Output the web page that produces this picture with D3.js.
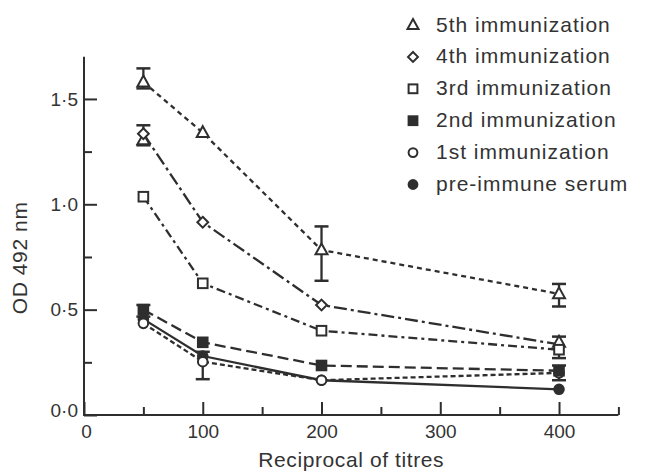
<!DOCTYPE html>
<html><head><meta charset="utf-8">
<script src="https://cdn.jsdelivr.net/npm/d3@7"></script>
<style>
body{margin:0;background:#fff;}
svg text{font-family:"Liberation Sans",Arial,sans-serif;fill:#333;}
</style></head>
<body><svg id="c" width="650" height="476"></svg>
<script>
// ---- data ----
const titres = [50, 100, 200, 400];
const seriesNames = ["5th immunization","4th immunization","3rd immunization","2nd immunization","1st immunization","pre-immune serum"];
const seriesSymbols = ["triangle","diamond","square","squareFilled","circle","circleFilled"];
const seriesDash = ["5,4","13,4,3,4","9,4,3,4","11,5","5,3",null];
const od5th = [1.58, 1.34, 0.783, 0.575];
const od4th = [1.335, 0.915, 0.522, 0.335];
const od3rd = [1.036, 0.625, 0.40, 0.31];
const od2nd = [0.50, 0.345, 0.235, 0.21];
const od1st = [0.435, 0.253, 0.165, 0.20];
const odPre = [0.455, 0.28, 0.165, 0.122];
// error bars: [titre, low, high]
const err5th = [[50,1.55,1.645],[200,0.637,0.895],[400,0.515,0.622]];
const err4th = [[50,1.28,1.375]];
const err3rd = [[400,0.27,0.372]];
const err2nd = [[50,0.467,0.522],[400,0.165,0.235]];
const err1st = [[100,0.17,0.30]];
const extraTriangles = [[50,1.305],[400,0.345]];
const xTicks = [0,100,200,300,400];
const yTicks = [0,0.5,1.0,1.5];
const yTickLabels = ["0·0","0·5","1·0","1·5"];

const seriesValues = [od5th, od4th, od3rd, od2nd, od1st, odPre];
const seriesErr = [err5th, err4th, err3rd, err2nd, err1st, []];

// ---- layout ----
const svg = d3.select("#c");
const x = d3.scaleLinear().domain([0,450]).range([84,618.4]);
const y = d3.scaleLinear().domain([0,1.7]).range([415,56.8]);
const ink = "#2e2e2e";

// axes
const gx = svg.append("g").attr("transform",`translate(0,${y(0)})`);
gx.call(d3.axisBottom(x).tickValues(d3.range(50,451,100)).tickSize(-8).tickFormat(""));
const gx2 = svg.append("g").attr("transform",`translate(0,${y(0)})`);
gx2.call(d3.axisBottom(x).tickValues(xTicks).tickSize(-13).tickPadding(10).tickFormat(d3.format("d")));
const gy = svg.append("g").attr("transform",`translate(${x(0)},0)`);
gy.call(d3.axisLeft(y).tickValues([0.25,0.75,1.25]).tickSize(-8).tickFormat(""));
const gy2 = svg.append("g").attr("transform",`translate(${x(0)},0)`);
gy2.call(d3.axisLeft(y).tickValues(yTicks).tickSize(-13).tickPadding(6).tickFormat((d,i)=>yTickLabels[i]));
svg.selectAll(".domain").remove();
svg.selectAll(".tick line").attr("stroke",ink).attr("stroke-width",2);
svg.selectAll(".tick text").attr("font-size",19).attr("fill","#333")
   .style("font-family",'"Liberation Sans",Arial,sans-serif');
gx2.select(".tick text").attr("dx",2);
gy2.select(".tick text").attr("dy","0.1em");
// axis lines
svg.append("line").attr("x1",x(0)).attr("x2",x(450)).attr("y1",y(0)).attr("y2",y(0)).attr("stroke",ink).attr("stroke-width",2);
svg.append("line").attr("x1",x(0)).attr("x2",x(0)).attr("y1",y(0)+1).attr("y2",y(1.7)).attr("stroke",ink).attr("stroke-width",2);

// axis titles
svg.append("text").attr("x",(x(0)+x(450))/2).attr("y",467).attr("text-anchor","middle")
  .attr("font-size",21).attr("letter-spacing",0.6).text("Reciprocal of titres");
svg.append("text").attr("transform",`translate(27,${(y(0)+y(1.7))/2+22}) rotate(-90)`).attr("text-anchor","middle")
  .attr("font-size",21).attr("letter-spacing",0.6).text("OD 492 nm");

// symbol drawer
function drawSym(g, type, cx, cy, s){
  const sw = 2;
  if(type==="triangle"){
    const h = s*0.9;
    g.append("path").attr("d",`M${cx},${cy-h*0.6}L${cx+s/2},${cy+h*0.4}L${cx-s/2},${cy+h*0.4}Z`)
     .attr("fill","#fff").attr("stroke",ink).attr("stroke-width",sw).attr("stroke-linejoin","miter");
  } else if(type==="diamond"){
    const r = s*0.45;
    g.append("path").attr("d",`M${cx},${cy-r}L${cx+r},${cy}L${cx},${cy+r}L${cx-r},${cy}Z`)
     .attr("fill","#fff").attr("stroke",ink).attr("stroke-width",sw);
  } else if(type==="square"||type==="squareFilled"){
    const r = s*0.4;
    g.append("rect").attr("x",cx-r).attr("y",cy-r).attr("width",2*r).attr("height",2*r)
     .attr("fill",type==="square"?"#fff":ink).attr("stroke",ink).attr("stroke-width",sw);
  } else {
    const r = s*0.4;
    g.append("circle").attr("cx",cx).attr("cy",cy).attr("r",r)
     .attr("fill",type==="circle"?"#fff":ink).attr("stroke",ink).attr("stroke-width",sw);
  }
}

const plot = svg.append("g");
const lineGen = d3.line().x(d=>x(d[0])).y(d=>y(d[1]));
// lines (draw from bottom series to top)
for(let i=seriesValues.length-1;i>=0;i--){
  const pts = titres.map((t,j)=>[t,seriesValues[i][j]]);
  const p = plot.append("path").attr("d",lineGen(pts)).attr("fill","none")
    .attr("stroke",ink).attr("stroke-width",2.3);
  if(seriesDash[i]) p.attr("stroke-dasharray",seriesDash[i]);
}
// error bars
seriesErr.forEach(errs=>{
  errs.forEach(e=>{
    const cx = x(e[0]);
    plot.append("line").attr("x1",cx).attr("x2",cx).attr("y1",y(e[1])).attr("y2",y(e[2])).attr("stroke",ink).attr("stroke-width",2.3);
    [e[1],e[2]].forEach(v=>plot.append("line").attr("x1",cx-7).attr("x2",cx+7).attr("y1",y(v)).attr("y2",y(v)).attr("stroke",ink).attr("stroke-width",2.5));
  });
});
// markers
extraTriangles.forEach(d=>drawSym(plot,"triangle",x(d[0]),y(d[1]),12));
for(let i=seriesValues.length-1;i>=0;i--){
  titres.forEach((t,j)=>{
    if(i===1 && j===3) return; // 4th series end shown by triangle
    drawSym(plot, seriesSymbols[i], x(t), y(seriesValues[i][j]), 12);
  });
}

// legend
const leg = svg.append("g");
seriesNames.forEach((n,i)=>{
  const cy = 24 + i*31.9;
  drawSym(leg, seriesSymbols[i], 413, cy+1, 11);
  leg.append("text").attr("x",436).attr("y",cy).attr("dy","0.36em")
    .attr("font-size",21).attr("letter-spacing",1).text(n);
});
</script></body></html>
